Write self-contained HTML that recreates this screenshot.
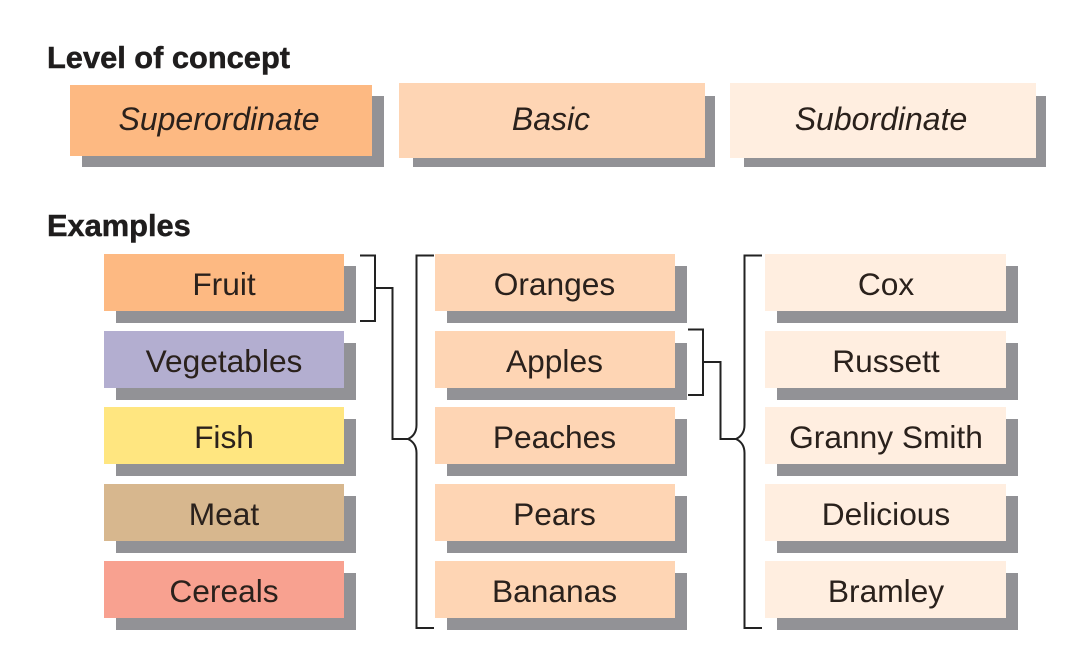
<!DOCTYPE html>
<html>
<head>
<meta charset="utf-8">
<style>
html,body{margin:0;padding:0;background:#fff}
#c{display:block}
text{font-family:"Liberation Sans",sans-serif;fill:#2a211c;text-anchor:middle}
.h{font-weight:bold;font-size:30.800px;text-anchor:start;fill:#1f1d1d;stroke:#1f1d1d;stroke-width:0.5px}
.i{font-style:italic;font-size:32px}
.t{font-size:31.700px}
.s{fill:#929296}
.l{fill:none;stroke:#222;stroke-width:2}
</style>
</head>
<body>
<svg id="c" width="1091" height="650" viewBox="0 0 1091 650" xmlns="http://www.w3.org/2000/svg">
<rect width="1091" height="650" fill="#fff"/>
<text class="h" x="47" y="68">Level of concept</text>
<text class="h" x="47" y="236">Examples</text>

<rect class="s" x="82" y="96" width="302" height="71"/>
<rect x="70" y="85" width="302" height="71" fill="#fdb982"/>
<text class="i" x="219" y="130">Superordinate</text>

<rect class="s" x="413" y="96" width="302" height="71"/>
<rect x="399" y="83" width="306" height="75" fill="#fed5b4"/>
<text class="i" x="551" y="130">Basic</text>

<rect class="s" x="744" y="96" width="302" height="71"/>
<rect x="730" y="83" width="306" height="75" fill="#ffeee0"/>
<text class="i" x="881" y="130">Subordinate</text>

<g class="s">
<rect x="116" y="266" width="240" height="57"/>
<rect x="116" y="343" width="240" height="57"/>
<rect x="116" y="419" width="240" height="57"/>
<rect x="116" y="496" width="240" height="57"/>
<rect x="116" y="573" width="240" height="57"/>
<rect x="447" y="266" width="240" height="57"/>
<rect x="447" y="343" width="240" height="57"/>
<rect x="447" y="419" width="240" height="57"/>
<rect x="447" y="496" width="240" height="57"/>
<rect x="447" y="573" width="240" height="57"/>
<rect x="777" y="266" width="241" height="57"/>
<rect x="777" y="343" width="241" height="57"/>
<rect x="777" y="419" width="241" height="57"/>
<rect x="777" y="496" width="241" height="57"/>
<rect x="777" y="573" width="241" height="57"/>
</g>

<rect x="104" y="254" width="240" height="57" fill="#fdb982"/>
<rect x="104" y="331" width="240" height="57" fill="#b3aed0"/>
<rect x="104" y="407" width="240" height="57" fill="#ffe680"/>
<rect x="104" y="484" width="240" height="57" fill="#d7b78e"/>
<rect x="104" y="561" width="240" height="57" fill="#f8a190"/>

<g fill="#fed5b4">
<rect x="435" y="254" width="240" height="57"/>
<rect x="435" y="331" width="240" height="57"/>
<rect x="435" y="407" width="240" height="57"/>
<rect x="435" y="484" width="240" height="57"/>
<rect x="435" y="561" width="240" height="57"/>
</g>
<g fill="#ffeee0">
<rect x="765" y="254" width="241" height="57"/>
<rect x="765" y="331" width="241" height="57"/>
<rect x="765" y="407" width="241" height="57"/>
<rect x="765" y="484" width="241" height="57"/>
<rect x="765" y="561" width="241" height="57"/>
</g>

<text class="t" x="224" y="295">Fruit</text>
<text class="t" x="224" y="372">Vegetables</text>
<text class="t" x="224" y="448">Fish</text>
<text class="t" x="224" y="525">Meat</text>
<text class="t" x="224" y="602">Cereals</text>

<text class="t" x="554.500" y="295">Oranges</text>
<text class="t" x="554.500" y="372">Apples</text>
<text class="t" x="554.500" y="448">Peaches</text>
<text class="t" x="554.500" y="525">Pears</text>
<text class="t" x="554.500" y="602">Bananas</text>

<text class="t" x="886" y="295">Cox</text>
<text class="t" x="886" y="372">Russett</text>
<text class="t" x="886" y="448">Granny Smith</text>
<text class="t" x="886" y="525">Delicious</text>
<text class="t" x="886" y="602">Bramley</text>

<path class="l" d="M360 255.500H375V321H360"/>
<path class="l" d="M375 288H392.500V439H408"/>
<path class="l" d="M434 255.500H416.500V425Q416.500 435 408 439Q416.500 443 416.500 453V628H434"/>

<path class="l" d="M688 329.500H703V395H688"/>
<path class="l" d="M703 362H720.500V439H737"/>
<path class="l" d="M762 255.500H744.500V425Q744.500 435 736 439Q744.500 443 744.500 453V628H762"/>
</svg>
</body>
</html>
